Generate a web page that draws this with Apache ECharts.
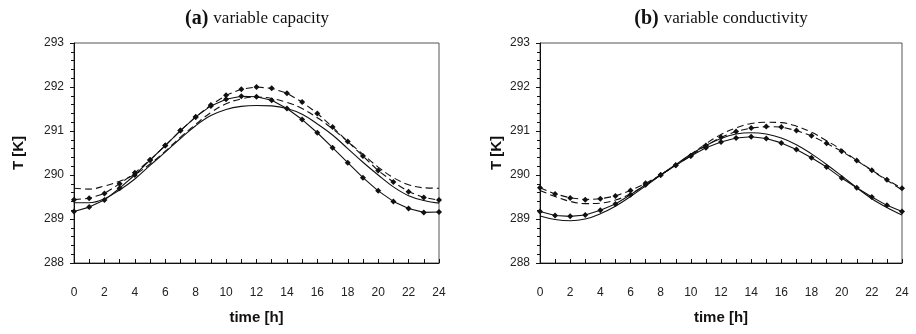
<!DOCTYPE html>
<html>
<head>
<meta charset="utf-8">
<script src="https://cdn.jsdelivr.net/npm/echarts@6/dist/echarts.min.js"></script>
<style>
  html, body { margin: 0; padding: 0; background: #fff; }
  #chart { width: 916px; height: 334px; }
</style>
</head>
<body>
<div id="chart"></div>
<script>
// hours 0..24
const hours = [0,1,2,3,4,5,6,7,8,9,10,11,12,13,14,15,16,17,18,19,20,21,22,23,24];
const xTicks = [0,2,4,6,8,10,12,14,16,18,20,22,24];
const yTicks = [288,289,290,291,292,293];

// (a) variable capacity
const capSolidMk = [289.17,289.27,289.43,289.70,290.00,290.34,290.67,291.01,291.32,291.57,291.72,291.79,291.78,291.70,291.51,291.26,290.96,290.62,290.28,289.94,289.64,289.40,289.24,289.15,289.16];
const capDashMk  = [289.44,289.47,289.58,289.80,290.05,290.34,290.67,291.01,291.32,291.59,291.81,291.95,292.00,291.97,291.86,291.66,291.40,291.09,290.76,290.43,290.10,289.84,289.62,289.49,289.43];
const capSolid   = [289.37,289.37,289.46,289.66,289.91,290.22,290.52,290.83,291.12,291.35,291.49,291.56,291.58,291.57,291.51,291.38,291.16,290.91,290.60,290.29,290.00,289.73,289.53,289.42,289.36];
const capDash    = [289.70,289.68,289.75,289.86,290.01,290.25,290.54,290.86,291.15,291.42,291.62,291.73,291.77,291.74,291.65,291.51,291.30,291.05,290.76,290.47,290.18,289.94,289.78,289.71,289.70];

// (b) variable conductivity
const conSolidMk = [289.17,289.08,289.06,289.09,289.20,289.34,289.55,289.78,290.00,290.22,290.43,290.62,290.75,290.84,290.87,290.83,290.73,290.58,290.39,290.18,289.93,289.71,289.50,289.31,289.17];
const conSolid   = [289.07,288.99,288.96,289.00,289.12,289.29,289.51,289.75,290.00,290.24,290.47,290.67,290.83,290.93,290.96,290.93,290.84,290.69,290.48,290.24,289.98,289.71,289.46,289.26,289.09];
const conDashMk  = [289.71,289.57,289.48,289.44,289.46,289.52,289.65,289.81,290.00,290.22,290.44,290.67,290.86,290.99,291.07,291.10,291.09,291.01,290.89,290.72,290.54,290.33,290.11,289.89,289.70];
const conDash    = [289.65,289.51,289.40,289.35,289.36,289.43,289.57,289.77,290.00,290.23,290.47,290.71,290.92,291.07,291.17,291.20,291.19,291.11,290.97,290.78,290.57,290.33,290.10,289.88,289.66];

const pairs = (ys) => hours.map((h, i) => [h, ys[i]]);

function line(data, idx, dashed, marker) {
  return {
    type: 'line',
    xAxisIndex: idx,
    yAxisIndex: idx,
    data: pairs(data),
    smooth: marker ? false : 0.4,
    symbol: marker ? 'diamond' : 'none',
    symbolSize: 6,
    itemStyle: { color: '#111' },
    lineStyle: { color: '#111', width: 1.1, type: dashed ? [7, 4] : 'solid' },
    animation: false,
    z: marker ? 3 : 2
  };
}

function xAxis(idx) {
  return {
    type: 'value', gridIndex: idx, min: xTicks[0], max: xTicks[xTicks.length - 1], interval: 2,
    name: 'time [h]', nameLocation: 'middle', nameGap: 47,
    nameTextStyle: { fontFamily: 'Liberation Sans', fontWeight: 'bold', fontSize: 15, color: '#111' },
    axisLine: { show: true, onZero: false, lineStyle: { color: '#111', width: 1 } },
    axisTick: { show: true, inside: true, length: 4, lineStyle: { color: '#111' } },
    minorTick: { show: true, splitNumber: 2, length: 4, lineStyle: { color: '#111' } },
    axisLabel: { margin: 24, fontFamily: 'Liberation Sans', fontSize: 12, color: '#222' },
    splitLine: { show: false }
  };
}

function yAxis(idx, gap) {
  return {
    type: 'value', gridIndex: idx, min: yTicks[0], max: yTicks[yTicks.length - 1], interval: 1,
    name: 'T [K]', nameLocation: 'middle', nameGap: gap, nameRotate: 90,
    nameTextStyle: { fontFamily: 'Liberation Sans', fontWeight: 'bold', fontSize: 15, color: '#111' },
    axisLine: { show: true, onZero: false, lineStyle: { color: '#111', width: 1 } },
    axisTick: { show: true, length: 4, lineStyle: { color: '#111' } },
    minorTick: { show: true, splitNumber: 5, length: 3, lineStyle: { color: '#111' } },
    axisLabel: { margin: 10, fontFamily: 'Liberation Sans', fontSize: 12, color: '#222' },
    splitLine: { show: false }
  };
}

const titleRich = {
  b: { fontFamily: 'Liberation Serif', fontWeight: 'bold', fontSize: 20, color: '#111' },
  n: { fontFamily: 'Liberation Serif', fontWeight: 'normal', fontSize: 17, color: '#111' }
};

const chart = echarts.init(document.getElementById('chart'));
chart.setOption({
  backgroundColor: '#fff',
  title: [
    { text: '{b|(a)} {n|variable capacity}', left: 252, top: 4, textAlign: 'center', textStyle: { fontWeight: 'normal', rich: titleRich } },
    { text: '{b|(b)} {n|variable conductivity}', left: 716, top: 4, textAlign: 'center', textStyle: { fontWeight: 'normal', rich: titleRich } }
  ],
  grid: [
    { left: 74, top: 43, width: 365, height: 220, show: true, borderColor: '#555', borderWidth: 1 },
    { left: 540, top: 43, width: 362, height: 220, show: true, borderColor: '#555', borderWidth: 1 }
  ],
  xAxis: [xAxis(0), xAxis(1)],
  yAxis: [yAxis(0, 48), yAxis(1, 36)],
  series: [
    line(capSolid, 0, false, false),
    line(capDash, 0, true, false),
    line(capSolidMk, 0, false, true),
    line(capDashMk, 0, true, true),
    line(conSolid, 1, false, false),
    line(conDash, 1, true, false),
    line(conSolidMk, 1, false, true),
    line(conDashMk, 1, true, true)
  ]
});
</script>
</body>
</html>
